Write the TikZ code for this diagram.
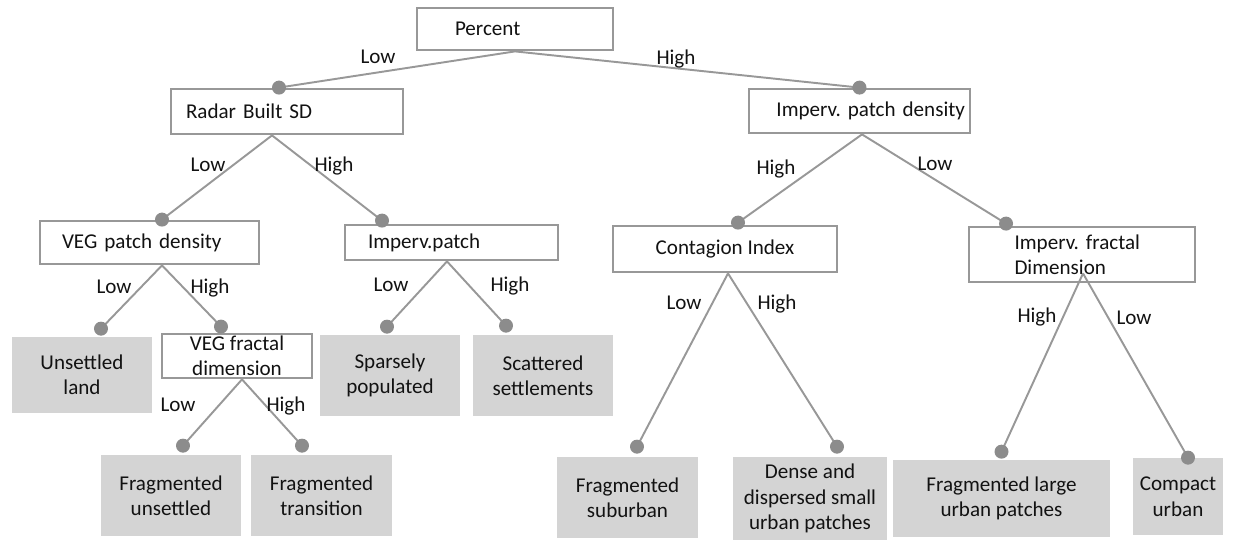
\documentclass[tikz,border=0pt]{standalone}
\usepackage{fontspec}
\setmainfont{Carlito}
\usepackage{tikz}
\frenchspacing

\definecolor{linegray}{RGB}{152,152,152}
\definecolor{dotgray}{RGB}{140,140,140}
\definecolor{leafgray}{RGB}{212,212,212}
\definecolor{txtgray}{RGB}{18,18,18}

\begin{document}
\begin{tikzpicture}[x=0.02cm, y=-0.02cm,
    every node/.style={font=\fontsize{12}{14.5}\selectfont, text=txtgray},
    testbox/.style={draw=linegray, line width=1.6pt, fill=white, inner xsep=0pt, inner ysep=0pt},
    leafbox/.style={fill=leafgray, align=center, inner sep=0pt},
    branch/.style={draw=linegray, line width=1.1pt},
    split/.style={fill=dotgray},
    lbl/.style={anchor=base}]
    \useasboundingbox (0,0) rectangle (1250,540);

    %% decision boxes
    \node[testbox, minimum width=3.92cm, minimum height=0.84cm, text width=2.40cm, align=left] (pct) at (515,29) {Percent};
    \node[testbox, minimum width=4.64cm, minimum height=0.90cm, text width=4.04cm, align=left] (radar) at (287,111.5) {Radar Built SD};
    \node[testbox, minimum width=4.42cm, minimum height=0.88cm, text width=4.22cm, align=right] (ipd) at (859.5,111) {Imperv. patch density};
    \node[testbox, minimum width=4.38cm, minimum height=0.86cm, text width=3.50cm, align=left] (veg) at (149.5,242.5) {VEG patch density};
    \node[testbox, minimum width=4.26cm, minimum height=0.70cm, text width=3.34cm, align=left] (imp) at (451.5,242.5) {Imperv.patch};
    \node[testbox, minimum width=4.48cm, minimum height=0.92cm, align=center] (cont) at (725,249) {Contagion Index};
    \node[testbox, minimum width=4.52cm, minimum height=1.10cm, text width=2.70cm, align=left] (ifd) at (1082,254.5) {Imperv. fractal\\Dimension};
    \node[testbox, minimum width=3.00cm, minimum height=0.88cm, align=center] (vegfd) at (237,356) {VEG fractal\\dimension};

    %% classes
    \node[leafbox, minimum width=2.80cm, minimum height=1.52cm] (unset) at (82,375) {Unsettled\\land};
    \node[leafbox, minimum width=2.80cm, minimum height=1.62cm] (sparse) at (390,375.5) {Sparsely\\populated};
    \node[leafbox, minimum width=2.80cm, minimum height=1.62cm] (scat) at (543,375.5) {Scattered\\settlements};
    \node[leafbox, minimum width=2.80cm, minimum height=1.62cm] (fragu) at (171,495.5) {Fragmented\\unsettled};
    \node[leafbox, minimum width=2.82cm, minimum height=1.62cm] (fragt) at (321.5,495.5) {Fragmented\\transition};
    \node[leafbox, minimum width=2.82cm, minimum height=1.62cm] (fragsub) at (627.5,497.5) {Fragmented\\suburban};
    \node[leafbox, minimum width=3.08cm, minimum height=1.66cm] (dense) at (810,498.5) {Dense and\\dispersed small\\urban patches};
    \node[leafbox, minimum width=4.34cm, minimum height=1.54cm] (fraglarge) at (1001.5,498.5) {Fragmented large\\urban patches};
    \node[leafbox, minimum width=1.80cm, minimum height=1.54cm] (compact) at (1178,496.5) {Compact\\urban};

    %% split points and entry points
    \coordinate (pctOut) at (pct.south);
    \coordinate (radarIn) at ([xshift=-0.16cm]radar.north);
    \coordinate (ipdIn) at (ipd.north);
    \coordinate (radarOut) at ([xshift=-0.30cm]radar.south);
    \coordinate (vegIn) at ([xshift=0.25cm]veg.north);
    \coordinate (impIn) at ([xshift=-1.39cm, yshift=0.06cm]imp.north);
    \coordinate (ipdOut) at ([xshift=0.05cm]ipd.south);
    \coordinate (contIn) at ([xshift=0.26cm, yshift=0.04cm]cont.north);
    \coordinate (ifdIn) at ([xshift=-1.52cm, yshift=0.04cm]ifd.north);
    \coordinate (vegOut) at ([xshift=0.25cm]veg.south);
    \coordinate (unsetIn) at ([xshift=0.38cm, yshift=0.16cm]unset.north);
    \coordinate (vegfdIn) at ([xshift=-0.32cm, yshift=0.12cm]vegfd.north);
    \coordinate (impOut) at ([xshift=-0.09cm]imp.south);
    \coordinate (sparseIn) at ([xshift=-0.06cm, yshift=0.16cm]sparse.north);
    \coordinate (scatIn) at ([xshift=-0.74cm, yshift=0.18cm]scat.north);
    \coordinate (vegfdOut) at ([xshift=0.10cm]vegfd.south);
    \coordinate (fraguIn) at ([xshift=0.24cm, yshift=0.18cm]fragu.north);
    \coordinate (fragtIn) at ([xshift=-0.39cm, yshift=0.18cm]fragt.north);
    \coordinate (contOut) at ([xshift=0.06cm]cont.south);
    \coordinate (fragsubIn) at ([xshift=0.19cm, yshift=0.20cm]fragsub.north);
    \coordinate (denseIn) at ([xshift=0.54cm, yshift=0.20cm]dense.north);
    \coordinate (ifdOut) at ([xshift=0.02cm, yshift=0.20cm]ifd.south);
    \coordinate (fraglargeIn) at ([yshift=0.16cm]fraglarge.north);
    \coordinate (compactIn) at ([xshift=0.20cm]compact.north);

    %% branches
    \foreach \a/\b in {pctOut/radarIn, pctOut/ipdIn, radarOut/vegIn, radarOut/impIn,
        ipdOut/contIn, ipdOut/ifdIn, vegOut/unsetIn, vegOut/vegfdIn,
        impOut/sparseIn, impOut/scatIn, vegfdOut/fraguIn, vegfdOut/fragtIn,
        contOut/fragsubIn, contOut/denseIn, ifdOut/fraglargeIn, ifdOut/compactIn}
      \draw[branch] (\a) -- (\b);

    %% dots
    \foreach \d in {radarIn, ipdIn, vegIn, impIn, contIn, ifdIn, unsetIn, vegfdIn,
        sparseIn, scatIn, fraguIn, fragtIn, fragsubIn, denseIn, fraglargeIn, compactIn}
      \fill[split] (\d) circle (0.14cm);

    %% branch labels
    \node[lbl] (pctLow) at (378,64) {Low};
    \node[lbl] (pctHigh) at (676,65) {High};
    \node[lbl] (radarLow) at (208,172) {Low};
    \node[lbl] (radarHigh) at (334,172) {High};
    \node[lbl] (ipdHigh) at (776,175) {High};
    \node[lbl] (ipdLow) at (935,171) {Low};
    \node[lbl] (vegLow) at (114,294) {Low};
    \node[lbl] (vegHigh) at (210,294) {High};
    \node[lbl] (impLow) at (391,292) {Low};
    \node[lbl] (impHigh) at (510,292) {High};
    \node[lbl] (vegfdLow) at (178,411) {Low};
    \node[lbl] (vegfdHigh) at (286,411) {High};
    \node[lbl] (contLow) at (684,310) {Low};
    \node[lbl] (contHigh) at (777,310) {High};
    \node[lbl] (ifdHigh) at (1037,322) {High};
    \node[lbl] (ifdLow) at (1134,324) {Low};

\end{tikzpicture}
\end{document}
